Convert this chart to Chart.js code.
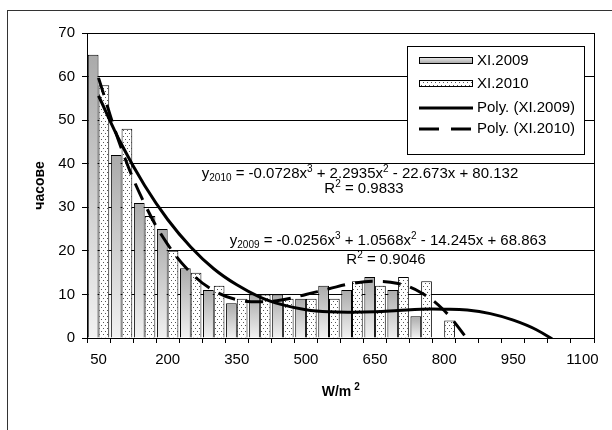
<!doctype html>
<html lang="bg">
<head>
  <meta charset="utf-8">
  <title>XI.2009 / XI.2010</title>
  <script src="https://cdn.jsdelivr.net/npm/chart.js"></script>
  <style>
    html, body { margin: 0; padding: 0; background: #fff; }
    #wrap { width: 612px; height: 430px; }
  </style>
</head>
<body>
<div id="wrap"><canvas id="myChart" width="612" height="430"></canvas></div>
<script>
// categories (W/m2)
const labelsW = ['50','100','150','200','250','300','350','400','450','500','550',
                 '600','650','700','750','800','850','900','950','1000','1050','1100'];
// hours per class
const hours2009 = [65, 42, 31, 25, 16, 11, 8, 10, 10, 9, 12, 11, 14, 11, 5, 0];
const hours2010 = [58, 48, 28, 20, 15, 12, 9, 10, 9, 9, 9, 13, 12, 14, 13, 4];
// trend lines
const trend2009 = [55.6, 44.4, 35.0, 27.2, 20.9, 15.9, 12.2, 9.4, 7.6, 6.5, 6.0,
                   5.9, 6.0, 6.3, 6.6, 6.6, 6.4, 5.6, 4.1, 1.9, -1.3];
const trend2010 = [59.7, 43.4, 30.8, 21.5, 15.0, 10.9, 8.8, 8.3, 8.8, 10.0, 11.3,
                   12.5, 13.0, 12.5, 10.4, 6.3, -0.2];
const yTicks = [0, 10, 20, 30, 40, 50, 60, 70];

const FONT = '"Liberation Sans", Arial, sans-serif';
const DASH = [18, 10];

// dotted fill for XI.2010
const pc = document.createElement('canvas');
pc.width = 4; pc.height = 6;
const pctx = pc.getContext('2d');
pctx.fillStyle = '#fff';
pctx.fillRect(0, 0, 4, 6);
pctx.fillStyle = '#555';
pctx.fillRect(1, 1, 1, 1);
pctx.fillRect(3, 4, 1, 1);
const dots = pctx.createPattern(pc, 'repeat');

function grayBar(ctx) {
  const chart = ctx.chart;
  if (!chart.chartArea || ctx.type !== 'data' || !ctx.parsed) return '#c8c8c8';
  const y = chart.scales.y;
  const top = y.getPixelForValue(ctx.parsed.y);
  const bottom = y.getPixelForValue(0);
  if (bottom - top < 1) return '#c8c8c8';
  const g = chart.ctx.createLinearGradient(0, top, 0, bottom);
  g.addColorStop(0, '#aaaaaa');
  g.addColorStop(1, '#f2f2f2');
  return g;
}

// text with sub/superscripts, centred on cx
function drawRuns(c, runs, cx, cy) {
  const big = '15px ' + FONT;
  const small = '10px ' + FONT;
  let w = 0;
  runs.forEach(function(r) {
    c.font = r.s ? small : big;
    w += c.measureText(r.t).width;
  });
  let x = cx - w / 2;
  c.textAlign = 'left';
  c.textBaseline = 'alphabetic';
  c.fillStyle = '#000';
  runs.forEach(function(r) {
    c.font = r.s ? small : big;
    let dy = 0;
    if (r.s === 'sub') dy = 3;
    if (r.s === 'sup') dy = -6;
    c.fillText(r.t, x, cy + dy);
    x += c.measureText(r.t).width;
  });
}

const extras = {
  id: 'extras',
  afterDatasetsDraw(chart) {
    const c = chart.ctx;
    const a = chart.chartArea;
    c.save();
    // plot frame
    c.strokeStyle = '#000';
    c.lineWidth = 1;
    c.strokeRect(Math.round(a.left) + 0.5, Math.round(a.top) + 0.5,
                 Math.round(a.right - a.left), Math.round(a.bottom - a.top));
    // outer frame (cut off on the right and bottom)
    c.strokeStyle = '#333';
    c.strokeRect(7.5, 10.5, 700, 600);

    // equations
    drawRuns(c, [{t:'y'},{t:'2010',s:'sub'},{t:' = -0.0728x'},{t:'3',s:'sup'},
                 {t:' + 2.2935x'},{t:'2',s:'sup'},{t:' - 22.673x + 80.132'}], 360, 178);
    drawRuns(c, [{t:'R'},{t:'2',s:'sup'},{t:' = 0.9833'}], 364, 193);
    drawRuns(c, [{t:'y'},{t:'2009',s:'sub'},{t:' = -0.0256x'},{t:'3',s:'sup'},
                 {t:' + 1.0568x'},{t:'2',s:'sup'},{t:' - 14.245x + 68.863'}], 388, 245);
    drawRuns(c, [{t:'R'},{t:'2',s:'sup'},{t:' = 0.9046'}], 386, 264);

    // legend
    c.fillStyle = '#fff';
    c.fillRect(407.5, 46.5, 177, 108);
    c.strokeStyle = '#000';
    c.strokeRect(407.5, 46.5, 177, 108);
    const g = c.createLinearGradient(0, 57, 0, 63);
    g.addColorStop(0, '#f2f2f2');
    g.addColorStop(1, '#aaaaaa');
    c.fillStyle = g;
    c.fillRect(419.5, 57.5, 53, 6);
    c.strokeRect(419.5, 57.5, 53, 6);
    c.fillStyle = dots;
    c.fillRect(419.5, 80.5, 53, 6);
    c.strokeRect(419.5, 80.5, 53, 6);
    c.lineWidth = 3;
    c.beginPath();
    c.moveTo(419, 108); c.lineTo(473, 108);
    c.stroke();
    c.setLineDash([20, 12]);
    c.beginPath();
    c.moveTo(419, 129); c.lineTo(473, 129);
    c.stroke();
    c.setLineDash([]);
    c.fillStyle = '#000';
    c.font = '15px ' + FONT;
    c.textAlign = 'left';
    c.textBaseline = 'middle';
    c.fillText('XI.2009', 477, 61);
    c.fillText('XI.2010', 477, 84);
    c.fillText('Poly. (XI.2009)', 477, 108);
    c.fillText('Poly. (XI.2010)', 477, 129);

    // axis titles
    c.font = 'bold 14px ' + FONT;
    c.textAlign = 'left';
    c.textBaseline = 'middle';
    const t = 'W/m';
    const tw = c.measureText(t).width;
    const tx = (a.left + a.right) / 2 - (tw + 8) / 2;
    c.fillText(t, tx, 392);
    c.font = 'bold 10px ' + FONT;
    c.fillText('2', tx + tw + 3, 387);
    c.font = 'bold 14px ' + FONT;
    c.textAlign = 'center';
    c.translate(40, (a.top + a.bottom) / 2);
    c.rotate(-Math.PI / 2);
    c.fillText('часове', 0, 0);
    c.restore();
  }
};

const data = {
  labels: labelsW,
  datasets: [{
    type: 'line',
    label: 'Poly. (XI.2009)',
    data: trend2009,
    borderColor: '#000',
    borderWidth: 3,
    pointRadius: 0,
    tension: 0.4,
    clip: 0,
    order: 1
  }, {
    type: 'line',
    label: 'Poly. (XI.2010)',
    data: trend2010,
    borderColor: '#000',
    borderWidth: 3,
    borderDash: DASH,
    pointRadius: 0,
    tension: 0.4,
    clip: 0,
    order: 1
  }, {
    type: 'bar',
    label: 'XI.2009',
    data: hours2009,
    backgroundColor: grayBar,
    borderColor: '#000',
    borderWidth: 1,
    barPercentage: 1.0,
    categoryPercentage: 0.93,
    order: 2
  }, {
    type: 'bar',
    label: 'XI.2010',
    data: hours2010,
    backgroundColor: dots,
    borderColor: '#000',
    borderWidth: 1,
    barPercentage: 1.0,
    categoryPercentage: 0.93,
    order: 2
  }]
};

const config = {
  data,
  options: {
    responsive: false,
    animation: false,
    layout: { padding: { left: 0, top: 33, right: 18, bottom: 0 } },
    plugins: {
      legend: { display: false },
      tooltip: { enabled: false }
    },
    scales: {
      x: {
        grid: { drawOnChartArea: false, drawTicks: true, tickLength: 5, color: '#000', offset: true },
        border: { color: '#000' },
        ticks: {
          autoSkip: false,
          maxRotation: 0,
          padding: 8,
          color: '#000',
          font: { family: FONT, size: 15 },
          callback: function(v, i) { return i % 3 === 0 ? labelsW[i] : ''; }
        },
        afterFit: function(s) { s.height = 92; }
      },
      y: {
        min: 0,
        max: 70,
        grid: { color: '#000', tickLength: 5 },
        border: { color: '#000' },
        afterBuildTicks: function(s) { s.ticks = yTicks.map(function(v) { return { value: v }; }); },
        ticks: {
          padding: 7,
          color: '#000',
          font: { family: FONT, size: 15 }
        },
        afterFit: function(s) { s.width = 87; }
      }
    }
  },
  plugins: [extras]
};

const myChart = new Chart(document.getElementById('myChart'), config);
</script>
</body>
</html>
